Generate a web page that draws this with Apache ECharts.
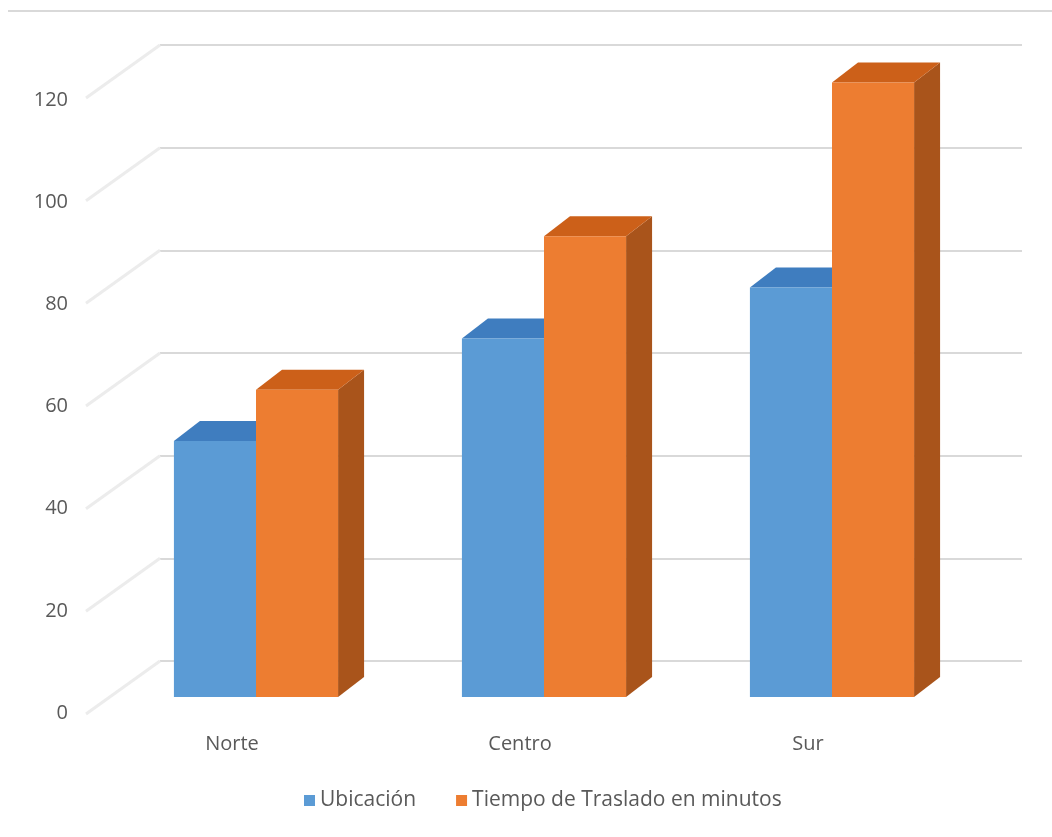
<!DOCTYPE html>
<html>
<head>
<meta charset="utf-8">
<script src="https://cdn.jsdelivr.net/npm/echarts@6/dist/echarts.min.js"></script>
<style>html,body{margin:0;padding:0;background:#fff}#c{width:1052px;height:837px}</style>
</head>
<body>
<div id="c"></div>
<script>
const categories = ['Norte', 'Centro', 'Sur'];
const ubicacion = [50, 70, 80];
const tiempo = [60, 90, 120];
const yTicks = [0, 20, 40, 60, 80, 100, 120];
const seriesNames = ['Ubicación', 'Tiempo de Traslado en minutos'];

const FONT = 'Open Sans';
const TXT = '#595959';
const FS = 20;
const DEPTH_X = 26, DEPTH_Y = -20;

function barRenderer(side, front, top, right) {
  return function (params, api) {
    const base = api.coord([api.value(0), 0]);
    const topPt = api.coord([api.value(0), api.value(1)]);
    const band = api.size([1, 0])[0];
    const w = band * 0.285;
    const x0 = side === 0 ? base[0] - w : base[0];
    const x1 = x0 + w;
    const yb = base[1], yt = topPt[1];
    return {
      type: 'group',
      children: [
        { type: 'polygon', shape: { points: [[x1, yt], [x1 + DEPTH_X, yt + DEPTH_Y], [x1 + DEPTH_X, yb + DEPTH_Y], [x1, yb]] }, style: { fill: right } },
        { type: 'polygon', shape: { points: [[x0, yt], [x0 + DEPTH_X, yt + DEPTH_Y], [x1 + DEPTH_X, yt + DEPTH_Y], [x1, yt]] }, style: { fill: top } },
        { type: 'rect', shape: { x: x0, y: yt, width: w, height: yb - yt }, style: { fill: front } }
      ]
    };
  };
}

const chart = echarts.init(document.getElementById('c'));
chart.setOption({
  backgroundColor: '#ffffff',
  animation: false,
  textStyle: { fontFamily: FONT },
  graphic: [
    { type: 'line', shape: { x1: 8, y1: 11, x2: 1052, y2: 11 }, style: { stroke: '#d9d9d9', lineWidth: 2 } }
  ],
  legend: {
    data: seriesNames,
    bottom: 21,
    left: 299,
    itemWidth: 11,
    itemHeight: 11,
    itemGap: 40,
    icon: 'rect',
    textStyle: { color: TXT, fontSize: 21, fontFamily: FONT }
  },
  grid: [
    { left: 112, right: 76, top: 82.6, bottom: 140 },
    { left: 160, right: 30, top: 45, bottom: 176 },
    { left: 76, right: 900, top: 100, bottom: 124 }
  ],
  xAxis: [
    { type: 'category', gridIndex: 0, data: categories, boundaryGap: true,
      axisLine: { show: false }, axisTick: { show: false },
      axisLabel: { color: TXT, fontSize: FS, fontFamily: FONT, margin: 37, padding: [0, 48, 0, 0] } },
    { type: 'category', gridIndex: 1, data: categories, show: false },
    { type: 'category', gridIndex: 2, data: categories, show: false }
  ],
  yAxis: [
    { type: 'value', gridIndex: 0, min: 0, max: 120, interval: 20, show: false },
    { type: 'value', gridIndex: 1, min: 0, max: 120, interval: 20,
      axisLabel: { show: false }, axisLine: { show: false }, axisTick: { show: false },
      splitLine: { show: true, lineStyle: { color: '#d9d9d9', width: 2 } } },
    { type: 'value', gridIndex: 2, min: 0, max: 120, interval: 20,
      axisLine: { show: false }, axisTick: { show: false }, splitLine: { show: false },
      axisLabel: { color: TXT, fontSize: FS, fontFamily: FONT, margin: 8 } }
  ],
  series: [
    {
      type: 'custom', name: 'walls', xAxisIndex: 1, yAxisIndex: 1, silent: true,
      data: yTicks.map(v => [0, v]),
      itemStyle: { color: '#eeeeee' },
      renderItem: function (params, api) {
        const p = api.coord([0, api.value(1)]);
        const x = params.coordSys.x;
        return { type: 'line', shape: { x1: x, y1: p[1], x2: x - 74, y2: p[1] + 53 },
                 style: { stroke: '#ececec', lineWidth: 3 } };
      }
    },
    {
      type: 'custom', name: seriesNames[0], xAxisIndex: 0, yAxisIndex: 0,
      data: ubicacion.map((v, i) => [i, v]),
      encode: { x: 0, y: 1 },
      itemStyle: { color: '#5b9bd5' },
      renderItem: barRenderer(0, '#5b9bd5', '#3f7dbf', '#3a6ea5')
    },
    {
      type: 'custom', name: seriesNames[1], xAxisIndex: 0, yAxisIndex: 0,
      data: tiempo.map((v, i) => [i, v]),
      encode: { x: 0, y: 1 },
      itemStyle: { color: '#ed7d31' },
      renderItem: barRenderer(1, '#ed7d31', '#cc6019', '#a9541b')
    }
  ]
});
</script>
</body>
</html>
